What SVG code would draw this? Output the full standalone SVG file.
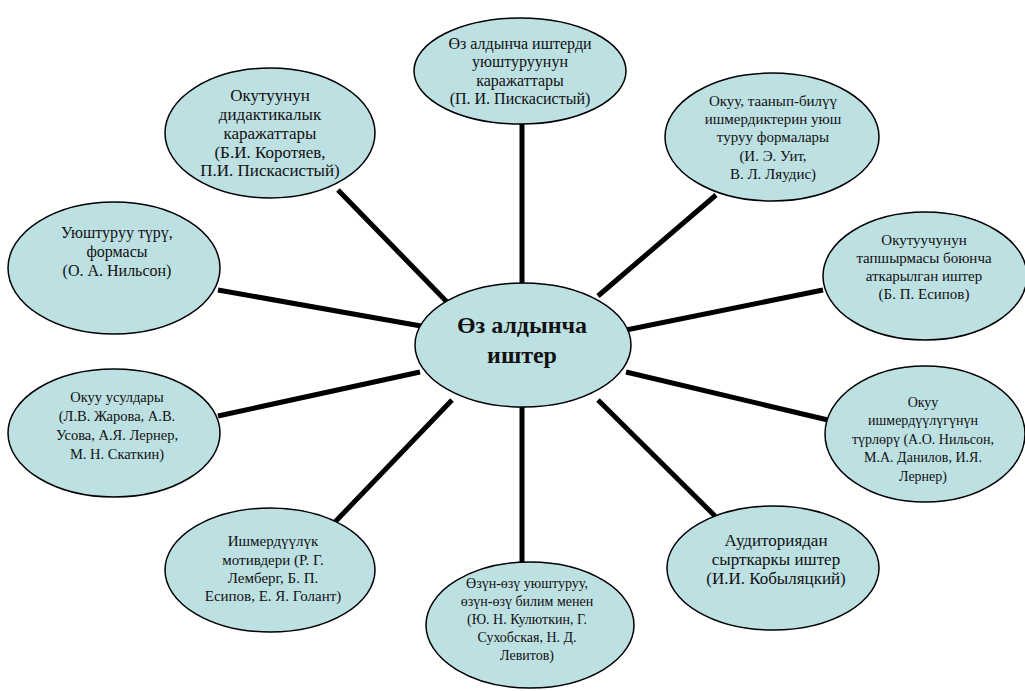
<svg xmlns="http://www.w3.org/2000/svg" width="1025" height="691" viewBox="0 0 1025 691">
<style>
.n ellipse{fill:#bde0e3;stroke:#000;stroke-width:1.5}
.n text{font-family:"Liberation Serif","Times New Roman",serif;font-size:15px;fill:#111;text-anchor:middle}
#center text{font-size:24px;font-weight:bold}
#links line{stroke:#000;stroke-width:5}
</style>
<rect width="1025" height="691" fill="#fff"/>
<g id="links">
<line x1="522" y1="124" x2="522" y2="284"/>
<line x1="338" y1="190" x2="447" y2="302"/>
<line x1="716" y1="195" x2="598" y2="296"/>
<line x1="218" y1="290" x2="421" y2="326"/>
<line x1="823" y1="290" x2="626" y2="330"/>
<line x1="218" y1="416" x2="420" y2="372"/>
<line x1="828" y1="420" x2="626" y2="372"/>
<line x1="335" y1="522" x2="452" y2="400"/>
<line x1="715" y1="516" x2="598" y2="400"/>
<line x1="522" y1="406" x2="522" y2="566"/>
</g>
<g id="n1" class="n"><ellipse cx="520" cy="71" rx="106" ry="53"/>
<g style="font-size:16px"><text x="520" y="49" style="font-size:16px">Өз алдынча иштерди</text><text x="520" y="67" style="font-size:16px">уюштуруунун</text><text x="520" y="86" style="font-size:16px">каражаттары</text><text x="520" y="104" style="font-size:16px">(П. И. Пискасистый)</text></g></g>
<g id="n2" class="n"><ellipse cx="270" cy="133" rx="105" ry="65"/>
<text x="270" y="101" style="font-size:17px">Окутуунун</text><text x="270" y="120" style="font-size:17px">дидактикалык</text><text x="270" y="139" style="font-size:17px">каражаттары</text><text x="270" y="158" style="font-size:17px">(Б.И. Коротяев,</text><text x="270" y="176" style="font-size:17px">П.И. Пискасистый)</text></g>
<g id="n3" class="n"><ellipse cx="772" cy="137" rx="107" ry="64"/>
<text x="773" y="106">Окуу, таанып-билүү</text><text x="773" y="124">ишмердиктерин уюш</text><text x="773" y="142">туруу формалары</text><text x="773" y="161">(И. Э. Уит,</text><text x="773" y="179">В. Л. Ляудис)</text></g>
<g id="n4" class="n"><ellipse cx="114" cy="268" rx="106" ry="66"/>
<text x="117" y="238" style="font-size:16px">Уюштуруу түрү,</text><text x="117" y="257" style="font-size:16px">формасы</text><text x="117" y="276" style="font-size:16px">(О. А. Нильсон)</text></g>
<g id="n5" class="n"><ellipse cx="925" cy="276" rx="102" ry="64"/>
<text x="924" y="245">Окутуучунун</text><text x="924" y="263">тапшырмасы боюнча</text><text x="924" y="281">аткарылган иштер</text><text x="924" y="299">(Б. П. Есипов)</text></g>
<g id="n6" class="n"><ellipse cx="114" cy="433" rx="106" ry="64"/>
<text x="117" y="402" style="font-size:14.5px">Окуу усулдары</text><text x="117" y="421" style="font-size:14.5px">(Л.В. Жарова, А.В.</text><text x="117" y="440" style="font-size:14.5px">Усова, А.Я. Лернер,</text><text x="117" y="459" style="font-size:14.5px">М. Н. Скаткин)</text></g>
<g id="n7" class="n"><ellipse cx="925" cy="434" rx="100" ry="68"/>
<text x="923" y="407" style="font-size:14px">Окуу</text><text x="923" y="425" style="font-size:14px">ишмердүүлүгүнүн</text><text x="923" y="444" style="font-size:14px">түрлөрү (А.О. Нильсон,</text><text x="923" y="462" style="font-size:14px">М.А. Данилов, И.Я.</text><text x="923" y="481" style="font-size:14px">Лернер)</text></g>
<g id="n8" class="n"><ellipse cx="270" cy="570" rx="105" ry="62"/>
<text x="273" y="546">Ишмердүүлүк</text><text x="273" y="565">мотивдери (Р. Г.</text><text x="273" y="583">Лемберг, Б. П.</text><text x="273" y="601">Есипов, Е. Я. Голант)</text></g>
<g id="n9" class="n"><ellipse cx="773" cy="568" rx="106" ry="62"/>
<text x="776" y="546" style="font-size:17px">Аудиториядан</text><text x="776" y="565" style="font-size:17px">сырткаркы иштер</text><text x="776" y="584" style="font-size:17px">(И.И. Кобыляцкий)</text></g>
<g id="n10" class="n"><ellipse cx="530" cy="625" rx="104" ry="63"/>
<text x="527" y="588" style="font-size:14px">Өзүн-өзү уюштуруу,</text><text x="527" y="606" style="font-size:14px">өзүн-өзү билим менен</text><text x="527" y="624" style="font-size:14px">(Ю. Н. Кулюткин, Г.</text><text x="527" y="642" style="font-size:14px">Сухобская, Н. Д.</text><text x="527" y="660" style="font-size:14px">Левитов)</text></g>
<g id="center" class="n"><ellipse cx="523" cy="345" rx="108" ry="62"/>
<text x="522" y="333">Өз алдынча</text><text x="522" y="363">иштер</text></g>
</svg>
